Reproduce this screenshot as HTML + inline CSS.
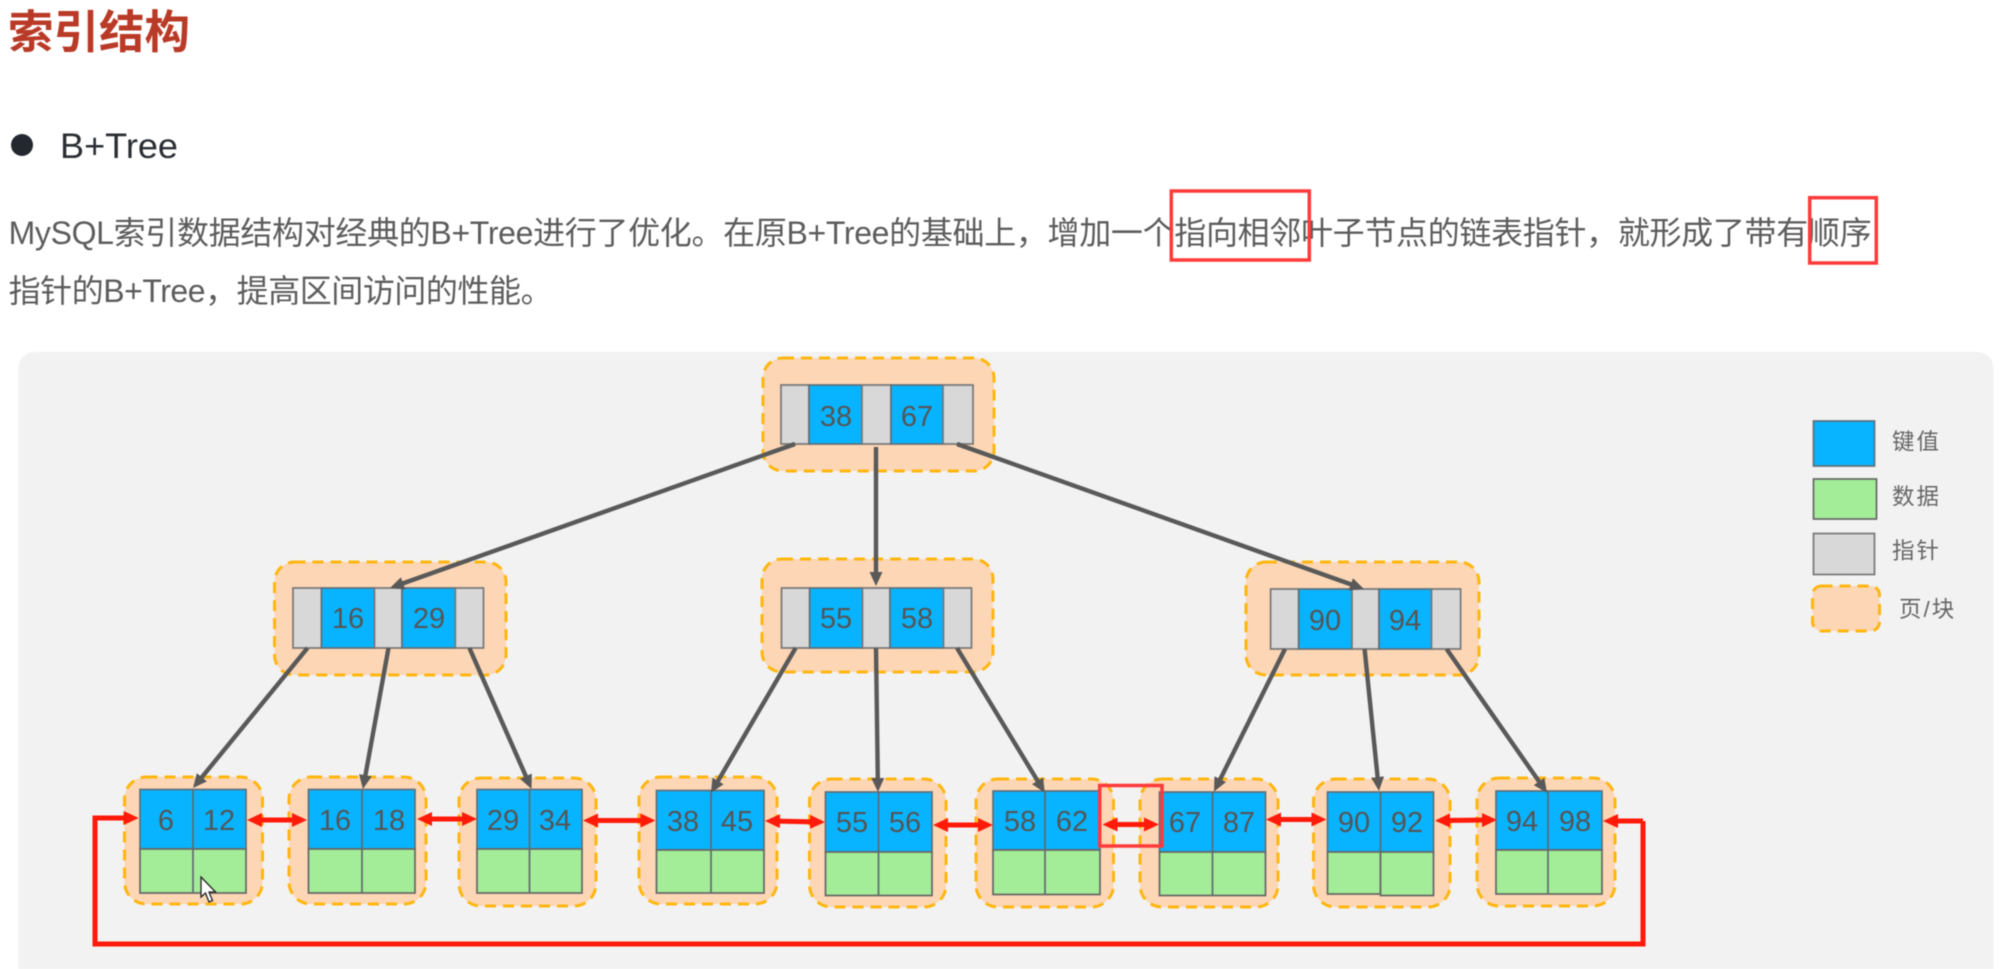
<!DOCTYPE html>
<html lang="zh-CN">
<head>
<meta charset="utf-8">
<title>索引结构</title>
<style>
html,body{margin:0;padding:0;background:#fff;width:2015px;height:969px;overflow:hidden}
svg{display:block;filter:blur(.6px)}
text{font-family:"Liberation Sans","Noto Sans CJK SC",sans-serif}
.pg{fill:#fdd6b5;stroke:#ffb60f;stroke-width:3;stroke-dasharray:11 7}
.k{fill:#08b4ff;stroke:#5f6f7a;stroke-width:1.7}
.d{fill:#a3ed98;stroke:#666;stroke-width:1.7}
.p{fill:#d8d8d8;stroke:#777;stroke-width:1.7}
.v{stroke:#5f6a70;stroke-width:1.7}
.n{font-size:29px;fill:#555;text-anchor:middle}
.a{stroke:#595959;stroke-width:4.4;fill:none;marker-end:url(#ga)}
.r{stroke:#ff1a0a;stroke-width:5;fill:none;marker-end:url(#ra);marker-start:url(#ra)}
.r1{stroke:#ff1a0a;stroke-width:5;fill:none;marker-end:url(#ra)}
.b{fill:none;stroke:#ff3a3a;stroke-width:3.5}
.t{font-size:32px;fill:#5c5c5c}
.l{font-size:22.5px;fill:#666;letter-spacing:2px}
</style>
</head>
<body>
<svg width="2015" height="969" viewBox="0 0 2015 969" xmlns="http://www.w3.org/2000/svg">
<defs>
<marker id="ga" markerUnits="userSpaceOnUse" viewBox="0 0 14 14" markerWidth="14" markerHeight="14" refX="8" refY="7" orient="auto-start-reverse"><path d="M0 0.5L14 7L0 13.5Z" fill="#595959"/></marker>
<marker id="ra" markerUnits="userSpaceOnUse" viewBox="0 0 15 15" markerWidth="15" markerHeight="15" refX="8" refY="7.5" orient="auto-start-reverse"><path d="M0 0.5L15 7.5L0 14.5Z" fill="#ff1a0a"/></marker>
</defs>

<text x="8" y="48" font-size="45.500" font-weight="700" fill="#b93a26">索引结构</text>
<circle cx="22" cy="145" r="11" fill="#23282e"/>
<text x="60" y="158" font-size="35" fill="#2a2e33" textLength="118" lengthAdjust="spacingAndGlyphs">B+Tree</text>
<text class="t" x="8.600" y="244" textLength="1863" lengthAdjust="spacing">MySQL索引数据结构对经典的B+Tree进行了优化。在原B+Tree的基础上，增加一个指向相邻叶子节点的链表指针，就形成了带有顺序</text>
<text class="t" x="8.600" y="302" textLength="544" lengthAdjust="spacing">指针的B+Tree，提高区间访问的性能。</text>
<rect class="b" x="1171.300" y="191" width="138" height="69"/>
<rect class="b" x="1809.700" y="197.700" width="66.600" height="65.300"/>

<rect x="18.500" y="352" width="1975" height="640" rx="16" fill="#f2f2f2"/>

<!-- root -->
<rect class="pg" x="763" y="358" width="231" height="113" rx="20"/>
<rect class="p" x="781" y="385" width="28" height="59"/><rect class="k" x="809" y="385" width="53" height="59"/><rect class="p" x="862" y="385" width="29" height="59"/><rect class="k" x="891" y="385" width="52" height="59"/><rect class="p" x="943" y="385" width="30" height="59"/>
<text class="n" x="836" y="426">38</text><text class="n" x="917" y="426">67</text>

<!-- internal nodes -->
<rect class="pg" x="274.500" y="562" width="231.500" height="113" rx="20"/>
<rect class="p" x="293" y="588" width="28.500" height="60"/><rect class="k" x="321.500" y="588" width="53" height="60"/><rect class="p" x="374.500" y="588" width="27.500" height="60"/><rect class="k" x="402" y="588" width="53.300" height="60"/><rect class="p" x="455.300" y="588" width="28.200" height="60"/>
<text class="n" x="348" y="628">16</text><text class="n" x="429" y="628">29</text>

<rect class="pg" x="762" y="559" width="231" height="113" rx="20"/>
<rect class="p" x="781.500" y="588" width="28.200" height="60"/><rect class="k" x="809.700" y="588" width="52.800" height="60"/><rect class="p" x="862.500" y="588" width="27.500" height="60"/><rect class="k" x="890" y="588" width="53.500" height="60"/><rect class="p" x="943.500" y="588" width="28" height="60"/>
<text class="n" x="836" y="628">55</text><text class="n" x="917" y="628">58</text>

<rect class="pg" x="1246" y="562" width="233" height="113" rx="20"/>
<rect class="p" x="1270.600" y="589" width="28.100" height="60"/><rect class="k" x="1298.700" y="589" width="53.300" height="60"/><rect class="p" x="1352" y="589" width="27" height="60"/><rect class="k" x="1379" y="589" width="52.500" height="60"/><rect class="p" x="1431.500" y="589" width="29.100" height="60"/>
<text class="n" x="1325" y="630">90</text><text class="n" x="1405" y="630">94</text>

<!-- leaves -->
<rect class="pg" x="124.500" y="777" width="138" height="127" rx="22"/>
<rect class="k" x="140" y="789.500" width="106" height="59.500"/><rect class="d" x="140" y="849" width="106" height="44"/><line class="v" x1="193" y1="789.500" x2="193" y2="893"/>
<text class="n" x="166" y="830">6</text><text class="n" x="219" y="830">12</text>

<rect class="pg" x="289" y="777" width="137" height="127" rx="22"/>
<rect class="k" x="308.500" y="789.500" width="106.500" height="59.500"/><rect class="d" x="308.500" y="849" width="106.500" height="44"/><line class="v" x1="362" y1="789.500" x2="362" y2="893"/>
<text class="n" x="335" y="830">16</text><text class="n" x="389" y="830">18</text>

<rect class="pg" x="459" y="778" width="137" height="128" rx="22"/>
<rect class="k" x="477" y="789.500" width="105" height="59.500"/><rect class="d" x="477" y="849" width="105" height="44"/><line class="v" x1="529.500" y1="789.500" x2="529.500" y2="893"/>
<text class="n" x="503" y="830">29</text><text class="n" x="555" y="830">34</text>

<rect class="pg" x="639" y="777" width="138" height="127" rx="22"/>
<rect class="k" x="656.500" y="790.500" width="107.500" height="59.500"/><rect class="d" x="656.500" y="850" width="107.500" height="43"/><line class="v" x1="711" y1="790.500" x2="711" y2="893"/>
<text class="n" x="683" y="831">38</text><text class="n" x="737" y="831">45</text>

<rect class="pg" x="809.500" y="779" width="136.500" height="128" rx="22"/>
<rect class="k" x="825.500" y="792" width="106.500" height="60"/><rect class="d" x="825.500" y="852" width="106.500" height="43.500"/><line class="v" x1="878.500" y1="792" x2="878.500" y2="895.500"/>
<text class="n" x="852" y="832">55</text><text class="n" x="905" y="832">56</text>

<rect class="pg" x="976" y="779" width="137.500" height="128" rx="22"/>
<rect class="k" x="993" y="791" width="107" height="59"/><rect class="d" x="993" y="850" width="107" height="44.500"/><line class="v" x1="1045" y1="791" x2="1045" y2="894.500"/>
<text class="n" x="1020" y="831">58</text><text class="n" x="1072" y="831">62</text>

<rect class="pg" x="1140" y="779" width="138" height="128" rx="22"/>
<rect class="k" x="1159.500" y="792" width="106" height="60"/><rect class="d" x="1159.500" y="852" width="106" height="43.500"/><line class="v" x1="1212.500" y1="792" x2="1212.500" y2="895.500"/>
<text class="n" x="1185" y="832">67</text><text class="n" x="1239" y="832">87</text>

<rect class="pg" x="1313.500" y="779" width="136.500" height="128" rx="22"/>
<rect class="k" x="1327.500" y="792" width="106" height="60"/><rect class="d" x="1327.500" y="852" width="53" height="42"/><rect class="d" x="1380.500" y="852" width="53" height="43.500"/><line class="v" x1="1380.500" y1="792" x2="1380.500" y2="852"/>
<text class="n" x="1354" y="832">90</text><text class="n" x="1407" y="832">92</text>

<rect class="pg" x="1477" y="778" width="138" height="128" rx="22"/>
<rect class="k" x="1496" y="791" width="106" height="59"/><rect class="d" x="1496" y="850" width="106" height="44"/><line class="v" x1="1548" y1="791" x2="1548" y2="894"/>
<text class="n" x="1522" y="831">94</text><text class="n" x="1575" y="831">98</text>

<!-- tree arrows -->
<path class="a" d="M795 444L395.600 586"/>
<path class="a" d="M876 447L876 580"/>
<path class="a" d="M957 444L1358.300 587"/>
<path class="a" d="M307.500 648L196.800 783.400"/>
<path class="a" d="M388.500 648L364 783.100"/>
<path class="a" d="M469.400 648L529.100 783.500"/>
<path class="a" d="M795.600 648L714 787.800"/>
<path class="a" d="M876 648L877.900 786"/>
<path class="a" d="M957 648L1041.700 787.600"/>
<path class="a" d="M1285 649L1216.700 786.300"/>
<path class="a" d="M1364.600 649L1378.400 785"/>
<path class="a" d="M1446.600 649L1543.600 788"/>

<!-- red links -->
<path class="r" d="M254 820L300 820"/>
<path class="r" d="M424 819L470 819"/>
<path class="r" d="M590 820.500L648.500 820.500"/>
<path class="r" d="M772 821L818 822"/>
<path class="r" d="M940 825L986 825"/>
<path class="r" d="M1109.500 824.500L1152 824.500"/>
<path class="r" d="M1273 819.500L1319.500 819.500"/>
<path class="r" d="M1442 820.500L1490 820"/>
<path class="r1" d="M1643 821L1610 821"/>
<path class="r1" d="M1643 821L1643 944L95 944L95 818L131.700 818"/>
<rect class="b" x="1099.700" y="785.500" width="62.300" height="60.500"/>

<!-- cursor -->
<path d="M201 877L201 897L205.500 893L209 902L212.500 900.500L209 892L215.500 892Z" fill="#fff" stroke="#222" stroke-width="1.300"/>

<!-- legend -->
<rect class="k" x="1813.500" y="421" width="61" height="45"/>
<rect class="d" x="1813.500" y="479" width="63" height="40"/>
<rect class="p" x="1813.500" y="533.500" width="61" height="41"/>
<rect class="pg" x="1812.500" y="586" width="67" height="45" rx="9"/>
<text class="l" x="1892" y="449.500">键值</text>
<text class="l" x="1892" y="504.500">数据</text>
<text class="l" x="1892" y="558.500">指针</text>
<text class="l" x="1899" y="617" letter-spacing="0">页/块</text>
</svg>
</body>
</html>
